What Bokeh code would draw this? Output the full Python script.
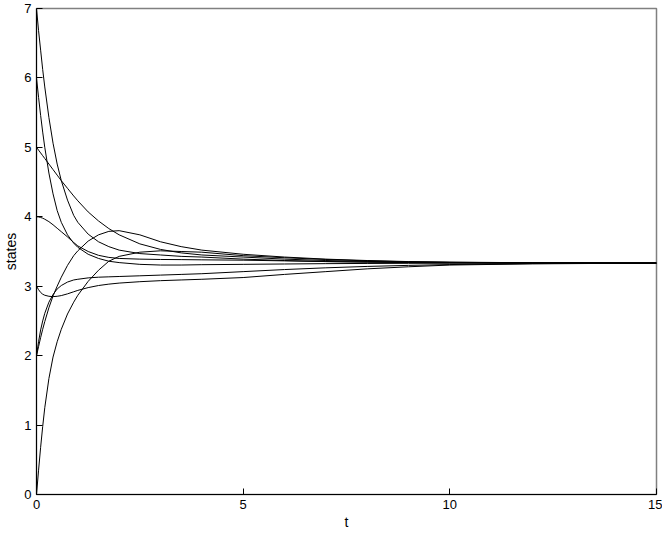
from bokeh.plotting import figure
from bokeh.models import Range1d, FixedTicker
from bokeh.embed import file_html
from bokeh.resources import INLINE

t = [0, 0.05, 0.1, 0.15, 0.2, 0.3, 0.4, 0.5, 0.6, 0.75, 0.9, 1, 1.25, 1.5, 1.75, 2, 2.5, 3, 3.5, 4, 5, 6, 7, 8, 9, 10, 12, 15]

x7 = [7, 6.68, 6.4, 6.12, 5.87, 5.43, 5.06, 4.76, 4.52, 4.24, 4.02, 3.92, 3.75, 3.64, 3.57, 3.52, 3.47, 3.45, 3.43, 3.42, 3.39, 3.37, 3.355, 3.347, 3.341, 3.338, 3.335, 3.333]
x6 = [6, 5.72, 5.46, 5.22, 5.0, 4.63, 4.33, 4.09, 3.92, 3.74, 3.62, 3.56, 3.46, 3.4, 3.36, 3.34, 3.315, 3.305, 3.305, 3.31, 3.315, 3.32, 3.325, 3.328, 3.33, 3.332, 3.333, 3.333]
x5 = [5, 4.96, 4.92, 4.88, 4.84, 4.76, 4.68, 4.6, 4.52, 4.41, 4.3, 4.23, 4.07, 3.94, 3.83, 3.74, 3.61, 3.53, 3.48, 3.45, 3.42, 3.39, 3.37, 3.357, 3.348, 3.342, 3.336, 3.333]
x4 = [4, 3.998, 3.99, 3.98, 3.965, 3.93, 3.885, 3.835, 3.785, 3.71, 3.63, 3.58, 3.5, 3.445, 3.415, 3.4, 3.39, 3.385, 3.383, 3.38, 3.375, 3.365, 3.355, 3.348, 3.342, 3.338, 3.335, 3.333]
x2a = [2, 2.13, 2.26, 2.38, 2.49, 2.69, 2.86, 3.0, 3.13, 3.3, 3.44, 3.51, 3.65, 3.74, 3.79, 3.8, 3.74, 3.64, 3.57, 3.52, 3.46, 3.42, 3.39, 3.37, 3.355, 3.347, 3.338, 3.334]
x0 = [0, 0.35, 0.68, 0.98, 1.25, 1.67, 1.98, 2.2, 2.38, 2.6, 2.77, 2.87, 3.07, 3.23, 3.36, 3.43, 3.49, 3.51, 3.5, 3.49, 3.44, 3.41, 3.385, 3.365, 3.352, 3.344, 3.337, 3.334]
x3 = [3, 2.95, 2.91, 2.885, 2.87, 2.855, 2.85, 2.855, 2.865, 2.89, 2.92, 2.94, 2.98, 3.01, 3.03, 3.045, 3.065, 3.08, 3.09, 3.1, 3.125, 3.17, 3.21, 3.25, 3.28, 3.305, 3.322, 3.333]
x2b = [2, 2.2, 2.37, 2.5, 2.61, 2.77, 2.88, 2.96, 3.01, 3.06, 3.09, 3.1, 3.12, 3.13, 3.135, 3.14, 3.15, 3.16, 3.17, 3.18, 3.21, 3.24, 3.265, 3.285, 3.3, 3.312, 3.326, 3.333]

series = [x7, x6, x5, x4, x2a, x0, x3, x2b]

x_ticks = [0, 5, 10, 15]
y_ticks = [0, 1, 2, 3, 4, 5, 6, 7]

p = figure(frame_width=620, frame_height=486, output_backend="svg", toolbar_location=None,
           x_range=Range1d(0, 15), y_range=Range1d(0, 7),
           min_border_left=30, min_border_top=8, min_border_right=6, min_border_bottom=30)
p.background_fill_color = "white"
p.border_fill_color = "white"
p.grid.visible = False
p.outline_line_color = "#808080"
p.outline_line_width = 1.5

for s in series:
    p.line(t, s, line_color="black", line_width=1)

font = "Liberation Sans"
for ax in (p.xaxis[0], p.yaxis[0]):
    ax.axis_line_color = "black"
    ax.axis_line_width = 1
    ax.major_tick_in = 6
    ax.major_tick_out = 0
    ax.minor_tick_line_color = None
    ax.major_tick_line_color = "black"
    ax.major_label_text_font = font
    ax.major_label_text_font_size = "13px"
    ax.major_label_text_color = "black"
    ax.axis_label_text_font = font
    ax.axis_label_text_font_size = "14px"
    ax.axis_label_text_font_style = "normal"
    ax.axis_label_text_color = "black"
    ax.major_label_standoff = 5
    ax.axis_label_standoff = 2

p.xaxis[0].ticker = FixedTicker(ticks=x_ticks)
p.yaxis[0].ticker = FixedTicker(ticks=y_ticks)
p.xaxis[0].axis_label = "t"
p.yaxis[0].axis_label = "states"

open("out.html", "w").write(file_html(p, INLINE))
